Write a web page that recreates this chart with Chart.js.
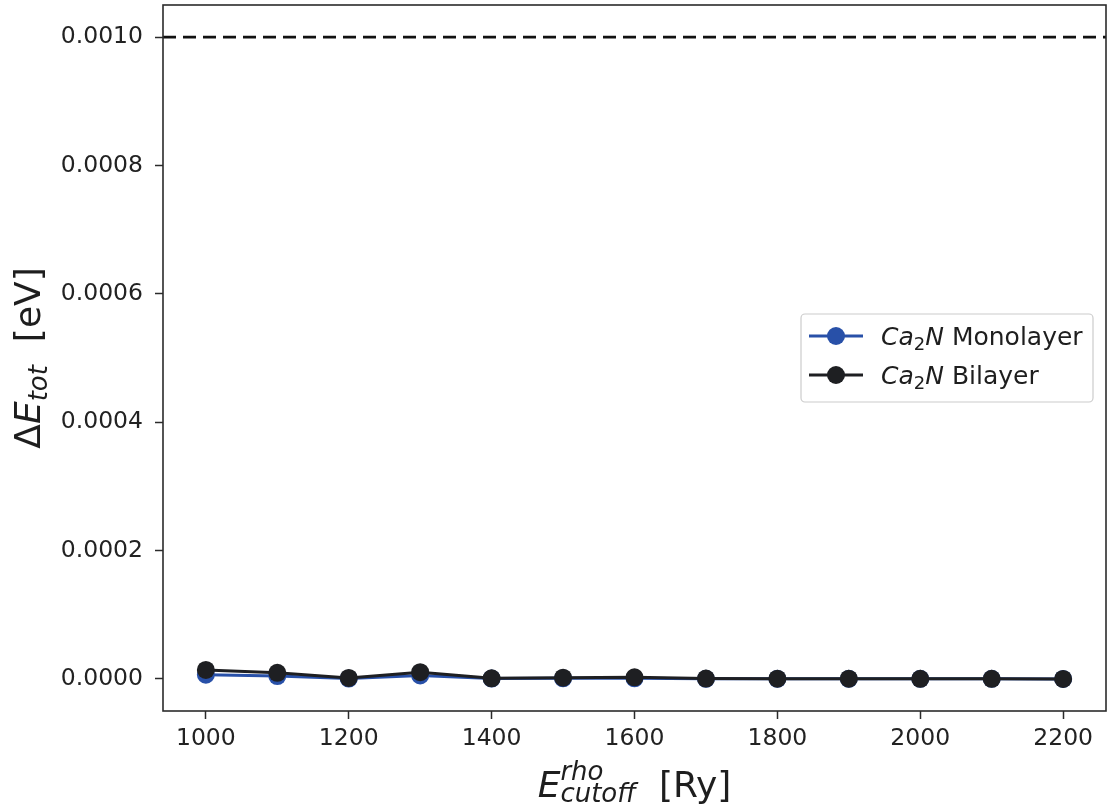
<!DOCTYPE HTML>
<html>
<head>
    <script src="https://cdn.jsdelivr.net/npm/chart.js"></script>
    <style>
        body { margin: 0; background: white; }
        #box { width: 1111px; height: 810px; }
    </style>
</head>
<body>
<div id="box"><canvas id="cutoffChart"></canvas></div>

<script type="text/javascript">
    // ecutrho convergence, Ca2N mono / bilayer
    const cutoffs = [1000, 1100, 1200, 1300, 1400, 1500, 1600, 1700, 1800, 1900, 2000, 2100, 2200];
    const monolayer = [0.0000065, 0.0000045, 0.0000005, 0.0000055, 0.0000005, 0.000001, 0.000001, 0.0000002, 0.0000002, 0.0000001, 0.0000001, 0.0000001, 0.0];
    const bilayer = [0.000014, 0.0000095, 0.0000015, 0.0000105, 0.000001, 0.000002, 0.0000025, 0.0000005, 0.0000004, 0.0000003, 0.0000002, 0.0000002, 0.0];
    const threshold = 0.001;
    const xTicks = [1000, 1200, 1400, 1600, 1800, 2000, 2200];
    const yTicks = [0.0000, 0.0002, 0.0004, 0.0006, 0.0008, 0.0010];
    const xMin = 940, xMax = 2260;
    const yMin = -0.00005, yMax = 0.00105;

    const BLUE = '#2850a8';
    const BLACK = '#1e1f22';
    const FONT = "'DejaVu Sans'";

    // draw a run of text pieces: {t, it, dy, size} or {stack: [sup, sub]}
    function drawRich(ctx, parts, x, y, align) {
        function font(p) {
            return (p.it ? 'italic ' : '') + p.size + 'px ' + FONT;
        }
        let total = 0;
        const widths = parts.map(p => {
            if (p.stack) {
                ctx.font = font(p.stack[0]);
                const a = ctx.measureText(p.stack[0].t).width;
                ctx.font = font(p.stack[1]);
                const b = ctx.measureText(p.stack[1].t).width;
                return Math.max(a, b);
            }
            ctx.font = font(p);
            return ctx.measureText(p.t).width;
        });
        widths.forEach(w => total += w);
        let cx = align === 'center' ? x - total / 2 : x;
        ctx.textAlign = 'left';
        ctx.textBaseline = 'alphabetic';
        parts.forEach((p, i) => {
            if (p.stack) {
                p.stack.forEach(s => {
                    ctx.font = font(s);
                    ctx.fillText(s.t, cx, y + s.dy);
                });
            } else {
                ctx.font = font(p);
                ctx.fillText(p.t, cx, y + (p.dy || 0));
            }
            cx += widths[i];
        });
    }

    const decorations = {
        id: 'decorations',
        afterDraw(chart) {
            const ctx = chart.ctx;
            const a = chart.chartArea;
            ctx.save();

            // frame
            ctx.strokeStyle = '#2b2b2b';
            ctx.lineWidth = 1.6;
            ctx.strokeRect(a.left, a.top, a.right - a.left, a.bottom - a.top);

            ctx.fillStyle = '#1e1e1e';

            // x title
            drawRich(ctx, [
                {t: 'E', it: true, size: 36},
                {stack: [{t: 'rho', it: true, size: 26, dy: -17}, {t: 'cutoff', it: true, size: 26, dy: 5}]},
                {t: '  [Ry]', size: 36}
            ], (a.left + a.right) / 2, 797, 'center');

            // y title
            ctx.save();
            ctx.translate(40, 358);
            ctx.rotate(-Math.PI / 2);
            drawRich(ctx, [
                {t: '\u0394', size: 36},
                {t: 'E', it: true, size: 36},
                {t: 'tot', it: true, size: 26, dy: 7},
                {t: '  [eV]', size: 36}
            ], 0, 0, 'center');
            ctx.restore();

            // legend
            const lx = 801, ly = 314, lw = 292, lh = 88;
            ctx.beginPath();
            ctx.roundRect(lx, ly, lw, lh, 4);
            ctx.fillStyle = 'rgba(255,255,255,0.85)';
            ctx.fill();
            ctx.strokeStyle = '#cccccc';
            ctx.lineWidth = 1.2;
            ctx.stroke();

            const rows = [
                {name: ' Monolayer', color: BLUE, y: 336},
                {name: ' Bilayer', color: BLACK, y: 375}
            ];
            rows.forEach(r => {
                ctx.strokeStyle = r.color;
                ctx.lineWidth = 3;
                ctx.beginPath();
                ctx.moveTo(809, r.y);
                ctx.lineTo(863, r.y);
                ctx.stroke();
                ctx.fillStyle = r.color;
                ctx.beginPath();
                ctx.arc(836, r.y, 9, 0, Math.PI * 2);
                ctx.fill();
                ctx.fillStyle = '#1e1e1e';
                drawRich(ctx, [
                    {t: 'Ca', it: true, size: 25},
                    {t: '2', size: 18, dy: 5},
                    {t: 'N', it: true, size: 25},
                    {t: r.name, size: 25}
                ], 881, r.y + 9, 'left');
            });
            ctx.restore();
        }
    };

    const tickColor = '#2b2b2b';
    const labelFont = {family: FONT, size: 23.5};

    new Chart(document.getElementById('cutoffChart'), {
        type: 'line',
        data: {
            datasets: [{
                label: 'threshold',
                data: [{x: xMin, y: threshold}, {x: xMax, y: threshold}],
                borderColor: '#111111',
                borderWidth: 2.8,
                borderDash: [13, 7],
                pointRadius: 0,
                order: 3
            }, {
                label: 'Ca2N Monolayer',
                data: cutoffs.map((c, i) => ({x: c, y: monolayer[i]})),
                borderColor: BLUE,
                backgroundColor: BLUE,
                borderWidth: 3,
                pointRadius: 9,
                pointBorderWidth: 0,
                order: 2
            }, {
                label: 'Ca2N Bilayer',
                data: cutoffs.map((c, i) => ({x: c, y: bilayer[i]})),
                borderColor: BLACK,
                backgroundColor: BLACK,
                borderWidth: 3,
                pointRadius: 9,
                pointBorderWidth: 0,
                order: 1
            }]
        },
        options: {
            responsive: true,
            maintainAspectRatio: false,
            animation: false,
            layout: {autoPadding: false, padding: {top: 5, right: 5, left: 0, bottom: 0}},
            plugins: {legend: {display: false}, tooltip: {enabled: false}},
            scales: {
                x: {
                    type: 'linear',
                    min: xMin,
                    max: xMax,
                    afterBuildTicks: s => { s.ticks = xTicks.map(v => ({value: v})); },
                    afterFit: s => { s.height = 99; s.paddingLeft = 0; s.paddingRight = 0; },
                    grid: {drawOnChartArea: false, drawTicks: true, tickLength: 8, tickWidth: 1.5, color: tickColor},
                    border: {display: false},
                    ticks: {font: labelFont, color: '#222222', padding: 6, maxRotation: 0, callback: v => String(v)}
                },
                y: {
                    type: 'linear',
                    min: yMin,
                    max: yMax,
                    afterBuildTicks: s => { s.ticks = yTicks.map(v => ({value: v})); },
                    afterFit: s => { s.width = 163; s.paddingTop = 0; s.paddingBottom = 0; },
                    grid: {drawOnChartArea: false, drawTicks: true, tickLength: 8, tickWidth: 1.5, color: tickColor},
                    border: {display: false},
                    ticks: {font: labelFont, color: '#222222', padding: 12, callback: v => v.toFixed(4)}
                }
            }
        },
        plugins: [decorations]
    });
</script>
</body>
</html>
